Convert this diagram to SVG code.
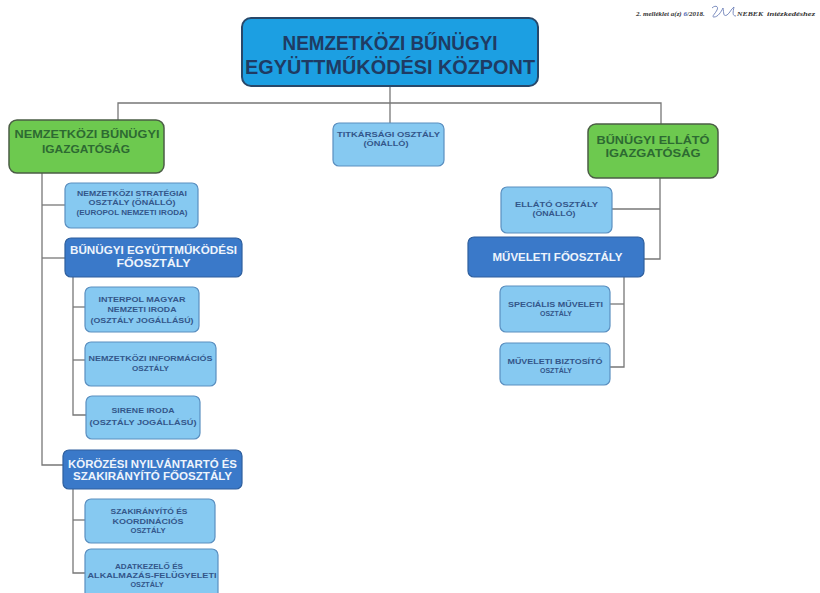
<svg xmlns="http://www.w3.org/2000/svg" width="820" height="593" viewBox="0 0 820 593">
  <style>
    text { font-family: "Liberation Sans", Arial, sans-serif; font-weight: 700; text-anchor: middle; }
    .top rect { fill: #1c9fe2; stroke: #28486a; stroke-width: 2; }
    .top text { fill: #1f3b63; font-size: 19.5px; }
    .green rect { fill: #6dc94f; stroke: #4b5d45; stroke-width: 1.5; }
    .green text { fill: #2d6a32; font-size: 11.5px; }
    .light rect { fill: #86c9f1; stroke: #5a8fc0; stroke-width: 1.2; }
    .light text { fill: #33568a; font-size: 7.5px; }
    .dark rect { fill: #3a79c9; stroke: #2e5f9e; stroke-width: 1.2; }
    .dark text { fill: #eef4fc; font-size: 11.5px; }
    .links path { fill: none; stroke: #777; stroke-width: 1.3; }
    .head { font-family: "Liberation Serif", "Times New Roman", serif; font-style: italic; font-size: 7px; fill: #333; text-anchor: start; }
  </style>

  <!-- page header note -->
  <g id="header">
    <text class="head" x="636" y="16">2. melléklet a(z) <tspan style="fill:#4a66b8">6</tspan>/2018.</text>
    <path d="M712,8 C715,5 719,6 717,10 C715,14 711,17 714,17 C718,17 721,12 723,8 C724,13 723,17 727,15 C730,13 731,9 734,7 C733,12 732,16 736,16" fill="none" stroke="#6d80b8" stroke-width="0.9"/>
    <text class="head" x="737" y="16" textLength="26" lengthAdjust="spacingAndGlyphs" style="font-weight:700">NEBEK</text>
    <text class="head" x="767" y="16" textLength="48" lengthAdjust="spacingAndGlyphs">intézkedéshez</text>
  </g>

  <!-- connectors -->
  <g id="connectors" class="links">
    <path d="M390,87 V103"/>
    <path d="M118,120 V103 H661 V124"/>
    <path d="M390,103 V123"/>
    <path d="M42,173 V465 H63"/>
    <path d="M42,205 H65"/>
    <path d="M42,258 H65"/>
    <path d="M73,277 V415 H86"/>
    <path d="M73,307 H85"/>
    <path d="M73,360 H85"/>
    <path d="M73,489 V573 H85"/>
    <path d="M73,520 H85"/>
    <path d="M660,178 V259 H644"/>
    <path d="M660,209 H612"/>
    <path d="M624,277 V367 H610"/>
    <path d="M624,304 H610"/>
  </g>

  <g id="kozpont" class="top">
    <rect x="242" y="18" width="296" height="68" rx="9"/>
    <text x="390" y="50" textLength="215" lengthAdjust="spacingAndGlyphs">NEMZETKÖZI BŰNÜGYI</text>
    <text x="390" y="74" textLength="290" lengthAdjust="spacingAndGlyphs">EGYÜTTMŰKÖDÉSI KÖZPONT</text>
  </g>

  <g id="nemzetkozi-igazgatosag" class="green">
    <rect x="9" y="120" width="155" height="53" rx="8"/>
    <text x="87" y="137.5" textLength="145" lengthAdjust="spacingAndGlyphs">NEMZETKÖZI BŰNÜGYI</text>
    <text x="86" y="153" textLength="88" lengthAdjust="spacingAndGlyphs">IGAZGATÓSÁG</text>
  </g>

  <g id="titkarsag" class="light">
    <rect x="333" y="123" width="111" height="43" rx="6"/>
    <text x="388.5" y="137" textLength="103" lengthAdjust="spacingAndGlyphs">TITKÁRSÁGI OSZTÁLY</text>
    <text x="386" y="146" textLength="45" lengthAdjust="spacingAndGlyphs">(ÖNÁLLÓ)</text>
  </g>

  <g id="ellato-igazgatosag" class="green">
    <rect x="588" y="124" width="130" height="54" rx="8"/>
    <text x="653" y="144" textLength="113" lengthAdjust="spacingAndGlyphs">BŰNÜGYI ELLÁTÓ</text>
    <text x="653" y="157" textLength="95" lengthAdjust="spacingAndGlyphs">IGAZGATÓSÁG</text>
  </g>

  <g id="strategiai-osztaly" class="light">
    <rect x="65" y="183" width="133" height="45" rx="6"/>
    <text x="132" y="195.5" textLength="110" lengthAdjust="spacingAndGlyphs">NEMZETKÖZI STRATÉGIAI</text>
    <text x="132" y="205" textLength="87" lengthAdjust="spacingAndGlyphs">OSZTÁLY (ÖNÁLLÓ)</text>
    <text x="132" y="214.5" textLength="111" lengthAdjust="spacingAndGlyphs">(EUROPOL NEMZETI IRODA)</text>
  </g>

  <g id="egyuttmukodesi-foosztaly" class="dark">
    <rect x="65" y="238" width="177" height="39" rx="6"/>
    <text x="153.5" y="254" textLength="167" lengthAdjust="spacingAndGlyphs">BŰNÜGYI EGYÜTTMŰKÖDÉSI</text>
    <text x="153.5" y="266.5" textLength="74" lengthAdjust="spacingAndGlyphs">FŐOSZTÁLY</text>
  </g>

  <g id="interpol" class="light">
    <rect x="85" y="287" width="114" height="45" rx="6"/>
    <text x="142" y="302" textLength="87" lengthAdjust="spacingAndGlyphs">INTERPOL MAGYAR</text>
    <text x="142" y="312" textLength="69" lengthAdjust="spacingAndGlyphs">NEMZETI IRODA</text>
    <text x="142" y="322.5" textLength="103" lengthAdjust="spacingAndGlyphs">(OSZTÁLY JOGÁLLÁSÚ)</text>
  </g>

  <g id="informacios-osztaly" class="light">
    <rect x="85" y="342" width="131" height="44" rx="6"/>
    <text x="150.5" y="360.5" textLength="124" lengthAdjust="spacingAndGlyphs">NEMZETKÖZI INFORMÁCIÓS</text>
    <text x="150.5" y="371" textLength="37" lengthAdjust="spacingAndGlyphs">OSZTÁLY</text>
  </g>

  <g id="sirene" class="light">
    <rect x="86" y="396" width="114" height="43" rx="6"/>
    <text x="143" y="413" textLength="63" lengthAdjust="spacingAndGlyphs">SIRENE IRODA</text>
    <text x="143" y="425" textLength="107" lengthAdjust="spacingAndGlyphs">(OSZTÁLY JOGÁLLÁSÚ)</text>
  </g>

  <g id="korozesi-foosztaly" class="dark">
    <rect x="63" y="450" width="179" height="39" rx="6"/>
    <text x="152.5" y="467.5" textLength="169" lengthAdjust="spacingAndGlyphs">KÖRÖZÉSI NYILVÁNTARTÓ ÉS</text>
    <text x="152.5" y="480" textLength="159" lengthAdjust="spacingAndGlyphs">SZAKIRÁNYÍTÓ FŐOSZTÁLY</text>
  </g>

  <g id="koordinacios-osztaly" class="light">
    <rect x="85" y="499" width="130" height="44" rx="6"/>
    <text x="149" y="514" textLength="77" lengthAdjust="spacingAndGlyphs">SZAKIRÁNYÍTÓ ÉS</text>
    <text x="148" y="523.5" textLength="71" lengthAdjust="spacingAndGlyphs">KOORDINÁCIÓS</text>
    <text x="148" y="533" textLength="35" lengthAdjust="spacingAndGlyphs">OSZTÁLY</text>
  </g>

  <g id="adatkezelo-osztaly" class="light">
    <rect x="85" y="549" width="133" height="50" rx="6"/>
    <text x="149" y="569" textLength="68" lengthAdjust="spacingAndGlyphs">ADATKEZELŐ ÉS</text>
    <text x="152" y="578" textLength="129" lengthAdjust="spacingAndGlyphs">ALKALMAZÁS-FELÜGYELETI</text>
    <text x="147" y="587" textLength="33" lengthAdjust="spacingAndGlyphs">OSZTÁLY</text>
  </g>

  <g id="ellato-osztaly" class="light">
    <rect x="501" y="187" width="111" height="46" rx="6"/>
    <text x="556.5" y="206.5" textLength="83" lengthAdjust="spacingAndGlyphs">ELLÁTÓ OSZTÁLY</text>
    <text x="554" y="215.5" textLength="43" lengthAdjust="spacingAndGlyphs">(ÖNÁLLÓ)</text>
  </g>

  <g id="muveleti-foosztaly" class="dark">
    <rect x="468" y="237" width="176" height="40" rx="6"/>
    <text x="557.5" y="261" textLength="130" lengthAdjust="spacingAndGlyphs">MŰVELETI FŐOSZTÁLY</text>
  </g>

  <g id="specialis-osztaly" class="light">
    <rect x="500" y="286" width="110" height="46" rx="6"/>
    <text x="555.5" y="306.5" textLength="95" lengthAdjust="spacingAndGlyphs">SPECIÁLIS MŰVELETI</text>
    <text x="556" y="315.5" textLength="32" lengthAdjust="spacingAndGlyphs">OSZTÁLY</text>
  </g>

  <g id="biztosito-osztaly" class="light">
    <rect x="500" y="343" width="110" height="42" rx="6"/>
    <text x="555" y="363.5" textLength="95" lengthAdjust="spacingAndGlyphs">MŰVELETI BIZTOSÍTÓ</text>
    <text x="556" y="372.5" textLength="32" lengthAdjust="spacingAndGlyphs">OSZTÁLY</text>
  </g>
</svg>
